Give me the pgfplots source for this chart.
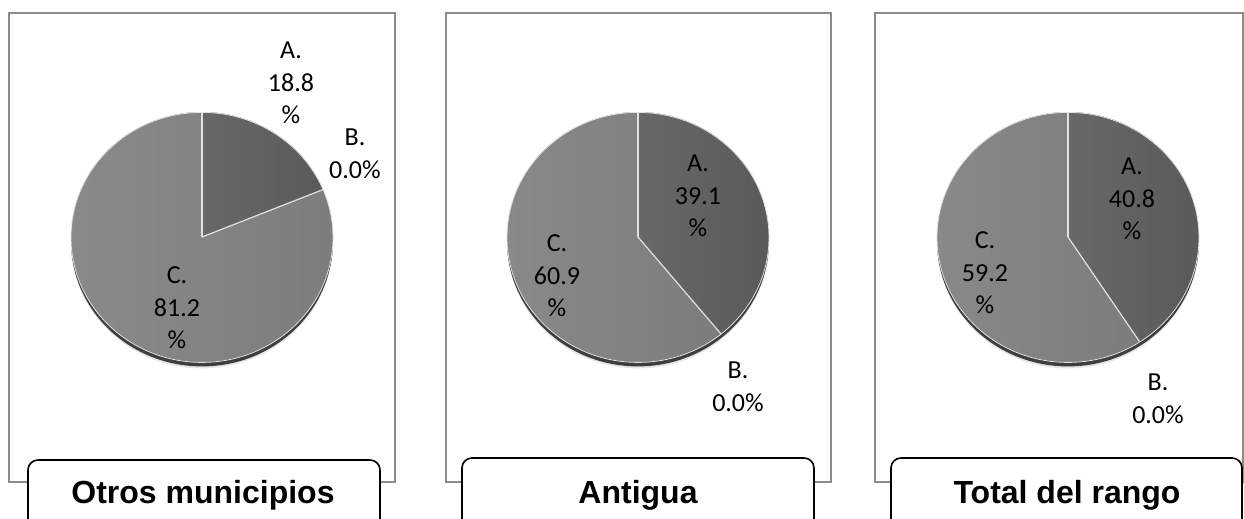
\documentclass[border=0pt]{standalone}
\usepackage{pgfplots}
\pgfplotsset{compat=1.18}
\usepackage{fontspec}
\setmainfont{Carlito}
\newfontfamily\arialfont{Liberation Sans}
\definecolor{cA1}{HTML}{686868}
\definecolor{cA2}{HTML}{5A5A5A}
\definecolor{cC1}{HTML}{8A8A8A}
\definecolor{cC2}{HTML}{7C7C7C}
\definecolor{cedge}{HTML}{3E3E3E}
\definecolor{cbox}{HTML}{8C8C8C}
\definecolor{csep}{HTML}{E2E2E2}
% values (percent): A, B, C for each panel
\def\pAa{18.8}\def\pBa{0.0}\def\pCa{81.2}
\def\pAb{39.1}\def\pBb{0.0}\def\pCb{60.9}
\def\pAc{40.8}\def\pBc{0.0}\def\pCc{59.2}
% #1 cx, #2 cy (pixel coords), #3 share of A in percent
\newcommand{\pie}[3]{%
  \fill[black!10] (axis cs:#1,#2) ++(0pt,-3.2pt) ellipse[x radius=65.3pt, y radius=62.5pt];
  \fill[cedge] (axis cs:#1,#2) ++(0pt,-2.2pt) ellipse[x radius=65.5pt, y radius=62.5pt];
  \shade[left color=cA1,right color=cA2] (axis cs:#1,#2) -- ++(0pt,62.5pt)
     arc[start angle=90, end angle={90-3.6*#3}, x radius=65.5pt, y radius=62.5pt] -- cycle;
  \shade[left color=cC1,right color=cC2] (axis cs:#1,#2) -- ++({90-3.6*#3}:65.5pt and 62.5pt)
     arc[start angle={90-3.6*#3}, end angle=-270, x radius=65.5pt, y radius=62.5pt] -- cycle;
  \draw[csep, line width=0.4pt] (axis cs:#1,#2) ++(0pt,-0.2pt) ellipse[x radius=65.5pt, y radius=62.5pt];
  \draw[csep, line width=0.6pt] (axis cs:#1,#2) -- ++(0pt,62.5pt);
  \draw[csep, line width=0.6pt] (axis cs:#1,#2) -- ++({90-3.6*#3}:65.5pt and 62.5pt);
}
\tikzset{lbl/.style={align=center, inner sep=0pt, font=\fontsize{13}{16.3}\selectfont, text=black},
  ttl/.style={anchor=base, inner sep=0pt, font=\arialfont\bfseries\fontsize{16}{19}\selectfont}}
\begin{document}
\begin{tikzpicture}
\begin{axis}[hide axis, scale only axis, width=622pt, height=259.5pt,
  xmin=0, xmax=1244, ymin=0, ymax=519, y dir=reverse, clip=false]
  % panel frames
  \draw[cbox, line width=1pt] (axis cs:9,13) rectangle (axis cs:395,482);
  \draw[cbox, line width=1pt] (axis cs:446,13) rectangle (axis cs:831,482);
  \draw[cbox, line width=1pt] (axis cs:875,13) rectangle (axis cs:1243,482);
  % pies
  \pie{202}{237}{18.8}
  \pie{638}{237}{39.1}
  \pie{1068}{237}{40.8}
  % labels panel 1
  \node[lbl] at (axis cs:291,83) {A.\\\pAa\\\%};
  \node[lbl] at (axis cs:355,154) {B.\\\pBa\%};
  \node[lbl] at (axis cs:177,308) {C.\\\pCa\\\%};
  % labels panel 2
  \node[lbl] at (axis cs:698,196) {A.\\\pAb\\\%};
  \node[lbl] at (axis cs:738,387) {B.\\\pBb\%};
  \node[lbl] at (axis cs:557,276) {C.\\\pCb\\\%};
  % labels panel 3
  \node[lbl] at (axis cs:1132,199) {A.\\\pAc\\\%};
  \node[lbl] at (axis cs:1158,399) {B.\\\pBc\%};
  \node[lbl] at (axis cs:985,273) {C.\\\pCc\\\%};
  % title boxes
  \draw[black, fill=white, line width=0.8pt, rounded corners=5pt] (axis cs:28,540) rectangle (axis cs:380,460);
  \draw[black, fill=white, line width=0.8pt, rounded corners=5pt] (axis cs:462,540) rectangle (axis cs:814,458);
  \draw[black, fill=white, line width=0.8pt, rounded corners=5pt] (axis cs:891,540) rectangle (axis cs:1242,458);
  \node[ttl] at (axis cs:203,503) {Otros municipios};
  \node[ttl] at (axis cs:638,503) {Antigua};
  \node[ttl] at (axis cs:1067,503) {Total del rango};
\end{axis}
\pgfresetboundingbox
\useasboundingbox (0,0) rectangle (622pt,259.5pt);
\end{tikzpicture}
\end{document}
